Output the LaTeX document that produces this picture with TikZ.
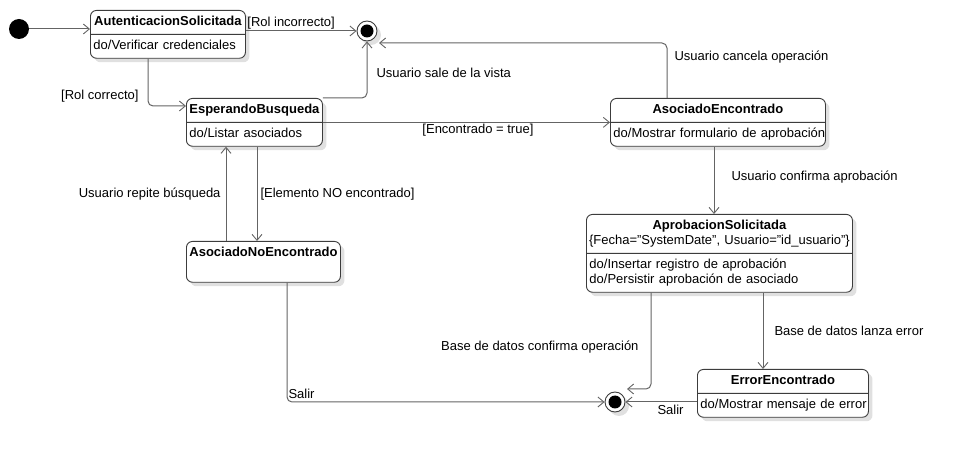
\documentclass[tikz,border=0pt]{standalone}
\usepackage{fontspec}
\setmainfont{Liberation Sans}
\usetikzlibrary{arrows.meta,positioning,shapes.multipart,shadows}
\definecolor{edgegray}{RGB}{100,100,100}
\definecolor{boxgray}{RGB}{60,60,60}
\newcommand{\titulo}[1]{\makebox[\hsize][c]{\strut#1}}
\newcommand{\accion}[1]{\strut\mbox{#1}}
\tikzset{
  shade/.style={drop shadow={shadow xshift=4pt,shadow yshift=-4pt,fill=black,opacity=0.12}},
  state/.style={rectangle split,rectangle split parts=2,draw=boxgray,line width=0.9pt,
    rounded corners=6pt,fill=white,shade,anchor=north west,align=left,
    inner xsep=3pt,inner ysep=4pt},
  endstate/.style={circle,draw=boxgray,line width=0.9pt,fill=white,minimum size=20pt,inner sep=0pt,shade,
    path picture={\fill[black] (path picture bounding box.center) circle (6.5pt);}},
  trans/.style={draw=edgegray,line width=1pt,rounded corners=5pt,
    -{Straight Barb[length=6pt,width=10pt,line width=0.9pt]}},
  lab/.style={inner sep=1pt,text=black}
}
\begin{document}
\begin{tikzpicture}[x=1pt,y=-1pt,font=\fontsize{13}{15}\selectfont]
    \useasboundingbox (0,0) rectangle (962,462);

    % estados
    \node (ini) [circle,fill=black,minimum size=20pt,inner sep=0pt] at (19,29) {};
    \node (fin1) [endstate] at (367,31) {};
    \node (fin2) [endstate] at (615,402) {};

    \node (autent) [state,text width=149pt] at (90,10)
      {\titulo{\textbf{AutenticacionSolicitada}}\nodepart{two}\accion{do/Verificar credenciales}};
    \node (espera) [state,text width=130pt] at (186,98)
      {\titulo{\textbf{EsperandoBusqueda}}\nodepart{two}\accion{do/Listar asociados}};
    \node (asoc) [state,text width=209pt] at (610,98)
      {\titulo{\textbf{AsociadoEncontrado}}\nodepart{two}\accion{do/Mostrar formulario de aprobación}};
    \node (aprob) [state,text width=260pt] at (586,214)
      {\titulo{\textbf{AprobacionSolicitada}}\\\titulo{\{Fecha="SystemDate", Usuario="id\_usuario"\}}
       \nodepart{two}\accion{do/Insertar registro de aprobación}\\\accion{do/Persistir aprobación de asociado}};
    \node (error) [state,text width=165pt] at (697,369)
      {\titulo{\textbf{ErrorEncontrado}}\nodepart{two}\accion{do/Mostrar mensaje de error}};
    \node (noenc) [state,rectangle split draw splits=false,text width=148pt] at (186,241)
      {\titulo{\textbf{AsociadoNoEncontrado}}\nodepart{two}\rule{0pt}{8pt}};

    % puntos de salida
    \coordinate (a1) at ([xshift=58pt]autent.south west);
    \coordinate (e1) at ([xshift=40pt]noenc.north west);
    \coordinate (e2) at ([xshift=71pt]espera.south west);
    \coordinate (n1) at ([xshift=101pt]noenc.south west);
    \coordinate (s1) at ([xshift=57pt]asoc.north west);
    \coordinate (s2) at ([xshift=104pt]asoc.south west);
    \coordinate (p1) at ([xshift=65pt]aprob.south west);
    \coordinate (p2) at ([xshift=177pt]aprob.south west);

    % transiciones
    \draw[trans] (ini) -- (ini -| autent.west);
    \draw[trans] (fin1 -| autent.east) -- node[lab,above right,pos=0]{[Rol incorrecto]} (fin1);
    \draw[trans] (a1) |- node[lab,above left,xshift=-8pt,yshift=2pt]{[Rol correcto]} ([yshift=-8pt]espera.north west);
    \draw[trans] (espera.north east) -| node[lab,right,pos=0.72,xshift=8pt]{Usuario sale de la vista} (fin1);
    \draw[trans] (s1) |- node[lab,right,pos=0.37,xshift=6pt]{Usuario cancela operación} ([xshift=12pt,yshift=-12pt]fin1.center);
    \draw[trans] (espera.east) -- node[lab,below,pos=0.54]{[Encontrado = true]} (espera.east -| asoc.west);
    \draw[trans] (e1) -- node[lab,left,midway,xshift=-4pt]{Usuario repite búsqueda} (e1 |- espera.south);
    \draw[trans] (e2) -- node[lab,right,midway,xshift=2pt]{[Elemento NO encontrado]} (e2 |- noenc.north);
    \draw[trans] (s2) -- node[lab,right,midway,xshift=16pt,yshift=3pt]{Usuario confirma aprobación} (s2 |- aprob.north);
    \draw[trans] (p1) |- node[lab,left,pos=0.28,xshift=-11pt]{Base de datos confirma operación} ([xshift=12pt,yshift=13pt]fin2.center);
    \draw[trans] (p2) -- node[lab,right,midway,xshift=10pt]{Base de datos lanza error} (p2 |- error.north);
    \draw[trans] (fin2 -| error.west) -- node[lab,below,pos=0.37,yshift=-2pt]{Salir} (fin2);
    \draw[trans] (n1) |- node[lab,above right,pos=0.5,yshift=2pt]{Salir} (fin2);
\end{tikzpicture}
\end{document}
